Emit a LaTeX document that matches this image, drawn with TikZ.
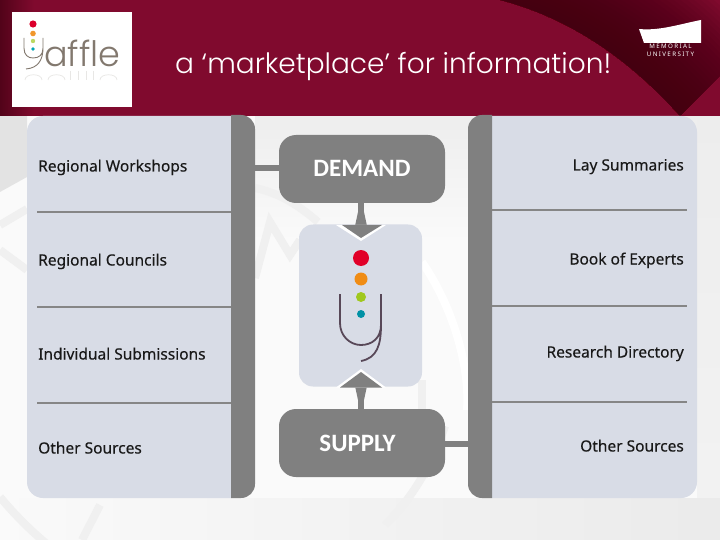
\documentclass[tikz,border=0pt]{standalone}
\usepackage{fontspec}
\setmainfont{Noto Sans}
\newfontfamily\titlefont{Poppins Light}
\newfontfamily\boxfont{Carlito}
\newfontfamily\rowfont[FakeBold=0.25]{Noto Sans}
\newfontfamily\unifont[LetterSpace=22]{Noto Sans}
\usetikzlibrary{arrows.meta,calc,positioning}
\definecolor{headred}{RGB}{128,10,46}
\definecolor{headdark}{RGB}{62,0,16}
\definecolor{panelblue}{RGB}{216,220,230}
\definecolor{bargray}{RGB}{128,128,128}
\definecolor{logobrown}{RGB}{130,120,110}
\definecolor{ystroke}{RGB}{88,72,88}
\definecolor{dotred}{RGB}{225,0,40}
\definecolor{dotorange}{RGB}{240,140,20}
\definecolor{dotgreen}{RGB}{160,200,30}
\definecolor{dotteal}{RGB}{0,145,165}
\tikzset{
  panelfill/.style={fill=panelblue},
  barfill/.style={fill=bargray},
  rowline/.style={line width=1.1pt, draw=bargray!95},
  rowlabel/.style={font=\rowfont\fontsize{15.5}{18}\selectfont, text=black!90, inner sep=0pt},
  sidebox/.style={
    fill=bargray, rounded corners=17, minimum width=166, minimum height=68,
    inner sep=0pt, text=white, font=\boxfont\bfseries\fontsize{25}{30}\selectfont
  },
  hubarrow/.style={draw=bargray, line width=6pt},
  tiebar/.style={draw=bargray, line width=6pt},
  watermark/.style={draw=black!6, line width=8pt, line cap=butt},
  logoshadow/.style={draw=logobrown!18, line width=0.7pt},
  unilabel/.style={anchor=base, inner sep=0pt, text=white, font=\unifont\bfseries\fontsize{6.2}{7}\selectfont}
}
\begin{document}
\begin{tikzpicture}[x=1pt,y=-1pt]

  \path[use as bounding box] (0,0) rectangle (720,540);

  % background<<<
  \fill[black!2] (0,116) rectangle (720,540);
  \shade[top color=black!7, bottom color=black!2] (255,116) rectangle (697,240);
  \shade[top color=black!7, bottom color=black!5] (697,116) rectangle (720,498);
  \shade[left color=black!2, right color=black!8] (0,498) rectangle (720,540);
  \fill[black!11] (0,116) -- (27,116) -- (27,177) -- (0,192) -- cycle;
  \draw[watermark] (0,225) -- (27,209);
  \draw[watermark] (0,250) -- (27,270);
  \draw[watermark] (0,497) .. controls (15,515) and (30,530) .. (48,545);
  \draw[watermark] (255,188) .. controls (275,192) and (295,202) .. (318,222);
  \draw[watermark] (255,278) -- (270,222) -- (290,255) -- (300,240);
  \draw[watermark] (422,380) -- (422,409);
  \draw[watermark] (445,426) .. controls (430,470) and (410,500) .. (385,525);
  \draw[watermark] (100,505) -- (82,540);
  \draw[white, line width=8pt] (422,262) .. controls (455,310) and (470,370) .. (467,410);
  % >>>

  % header<<<
  \fill[headred] (0,0) rectangle (720,116);
  \shade[left color=headdark!70!headred, right color=headred] (0,0) rectangle (34,116);
  \begin{scope}
    \clip (0,0) rectangle (720,116);
    \foreach \d in {3,6,...,75}{
      \fill[headdark, opacity=0.07] (500,0) .. controls (570,18) and (630,60) .. (680,116)
        -- ({680+\d},{116-\d}) .. controls ({630+\d},{60-\d}) and ({570+\d},{18-\d}) .. ({500+\d},{0-\d}) -- cycle;
    }
  \end{scope}
  \node[anchor=base west, inner sep=0pt, text=white,
        font=\titlefont\fontsize{28}{30}\selectfont]
    (titletext) at (175,74) {a ‘marketplace’ for information!};
  % >>>

  % yaffle logo<<<
  \fill[white] (12,12) rectangle (132,107);
  \fill[dotred!85!purple] (33,24) circle (3.6);
  \fill[dotorange!90!white] (33,33.5) circle (2.8);
  \fill[dotgreen!70!white] (33,41) circle (2.2);
  \fill[dotteal!80!cyan] (33,49) circle (1.8);
  \draw[logobrown, line width=0.9pt]
    (24,38) -- (24,48) .. controls (24,55) and (28,58) .. (33,58)
    .. controls (39,58) and (43,55) .. (43,48) -- (43,38)
    (43,48) .. controls (43,60) and (38,68) .. (26,69);
  \node[anchor=base west, inner sep=0pt, text=logobrown,
        font=\titlefont\fontsize{35}{40}\selectfont]
    (logotext) at (44,67) {affle};
  \foreach \refx in {25,48,100}{
    \draw[logoshadow] (\refx,80) .. controls (\refx,73) and ({\refx+17},73) .. ({\refx+17},80);
  }
  \foreach \refx in {70,78,86,93}{
    \draw[logoshadow] (\refx,71) -- (\refx,80);
  }
  % >>>

  % memorial logo<<<
  \fill[white] (639,29) .. controls (660,31) and (680,24) .. (701,20)
    -- (701,43) -- (644,43) -- cycle;
  \node[unilabel] (memorialtext) at (670.5,48.5) {MEMORIAL};
  \node[unilabel] (universitytext) at (670.5,57) {UNIVERSITY};
  % >>>

  % demand side<<<
  \fill[panelfill] (231,116) -- (231,498) [rounded corners=16] -- (27,498) -- (27,116) [sharp corners] -- cycle;
  \fill[barfill] (231,115) [rounded corners=14] -- (255,115) -- (255,498) [sharp corners] -- (231,498) -- cycle;
  \foreach \rowy in {212,307,403}{
    \draw[rowline] (37,\rowy) -- (231,\rowy);
  }
  \node[rowlabel, anchor=base west] (workshops) at (38,171.5) {Regional Workshops};
  \node[rowlabel, anchor=base west] (councils) at (38,265.5) {Regional Councils};
  \node[rowlabel, anchor=base west] (submissions) at (38,359.5) {Individual Submissions};
  \node[rowlabel, anchor=base west] (othersourcesa) at (38,453.5) {Other Sources};
  % >>>

  % supply side<<<
  \fill[panelfill] (492,116) [rounded corners=16] -- (697,116) -- (697,498) [sharp corners] -- (492,498) -- cycle;
  \fill[barfill] (492,498) [rounded corners=14] -- (468,498) -- (468,115) [sharp corners] -- (492,115) -- cycle;
  \foreach \rowy in {210,306,402}{
    \draw[rowline] (492,\rowy) -- (687,\rowy);
  }
  \node[rowlabel, anchor=base east] (summaries) at (684,170.5) {Lay Summaries};
  \node[rowlabel, anchor=base east] (experts) at (684,264.5) {Book of Experts};
  \node[rowlabel, anchor=base east] (directory) at (684,357.5) {Research Directory};
  \node[rowlabel, anchor=base east] (othersourcesb) at (684,451.5) {Other Sources};
  % >>>

  % middle<<<
  \node[sidebox] (demand) at (362,169) {\raisebox{2pt}{DEMAND}};
  \node[sidebox] (supply) at (362,443) {\hspace*{-9pt}\raisebox{-1pt}{SUPPLY}};
  \node[fill=panelblue, rounded corners=14, minimum width=123, minimum height=162, inner sep=0pt]
    (hub) at (360.5,305.5) {};

  \coordinate (leftbar) at (255,168);
  \coordinate (rightbar) at (468,444);
  \draw[tiebar] (leftbar) -- (leftbar -| demand.west);
  \draw[tiebar] (rightbar) -- (rightbar -| supply.east);

  \coordinate (demandtip) at (361,225);
  \coordinate (supplytip) at (361,387);
  \draw[hubarrow] (demand.south -| demandtip) -- (demandtip);
  \draw[hubarrow] (supply.north -| supplytip) -- (supplytip);
  \fill[bargray] (358,212) -- (364,212) -- (367,226) -- (355,226) -- cycle;
  \fill[bargray] (358,400) -- (364,400) -- (367,386) -- (355,386) -- cycle;

  \fill[white] (336,225) -- (386,225) -- (361,241) -- cycle;
  \fill[bargray] (342,225) -- (382,225) -- (361,238) -- cycle;
  \fill[white] (336,387.5) -- (386,387.5) -- (361,369) -- cycle;
  \fill[bargray] (340,387.5) -- (382,387.5) -- (361,372) -- cycle;

  \fill[dotred] (361,258) circle (8);
  \fill[dotorange] (361,279) circle (6.5);
  \fill[dotgreen] (361,297) circle (5);
  \fill[dotteal] (361,314) circle (4);
  \draw[ystroke, line width=1.8pt]
    (340,294) -- (340,323) .. controls (340,336) and (350,345) .. (361,345)
    .. controls (372,345) and (381,338) .. (381,325) -- (381,294)
    (381,325) .. controls (381,345) and (377,358) .. (361,361);
  % >>>

\end{tikzpicture}
\end{document}
